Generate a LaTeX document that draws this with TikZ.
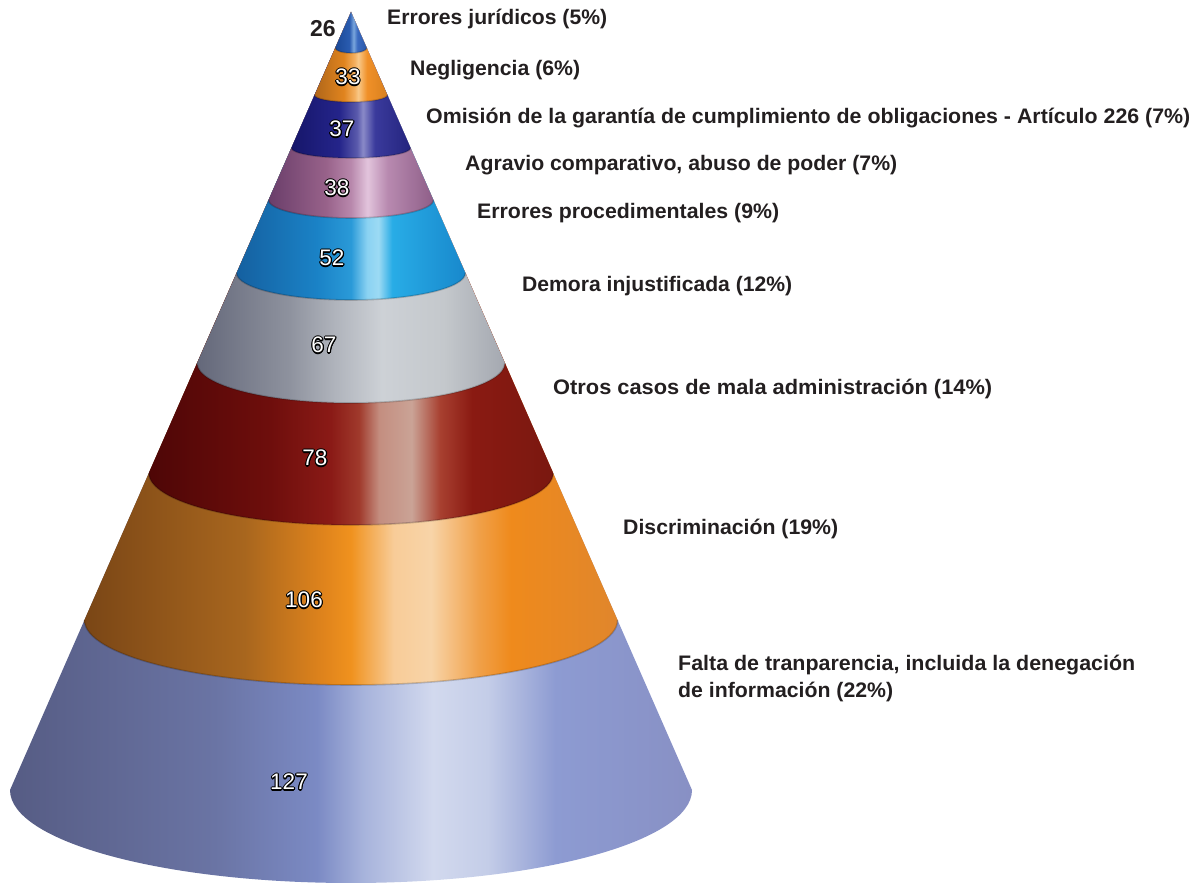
\documentclass[tikz,border=0pt]{standalone}
\usepackage{fontspec}
\setmainfont{Liberation Sans}
\usepackage{graphicx}
\definecolor{txt}{HTML}{231F20}
% shadings (path bounding box maps to 25bp..75bp)
\definecolor{a0}{HTML}{565C84}\definecolor{a1}{HTML}{6A74A4}\definecolor{a2}{HTML}{7B8AC4}\definecolor{a3}{HTML}{A8B4DC}\definecolor{a4}{HTML}{D2D9EE}\definecolor{a5}{HTML}{C4CDE8}\definecolor{a6}{HTML}{8D9BD2}\definecolor{a7}{HTML}{8890C4}
\pgfdeclarehorizontalshading{sh127}{100bp}{color(0bp)=(a0); color(25bp)=(a0); color(40bp)=(a1); color(47.5bp)=(a2); color(51bp)=(a3); color(56bp)=(a4); color(60bp)=(a5); color(65bp)=(a6); color(75bp)=(a7); color(100bp)=(a7)}
\definecolor{b0}{HTML}{7A4616}\definecolor{b1}{HTML}{A8661E}\definecolor{b2}{HTML}{E0841C}\definecolor{b3}{HTML}{F0921E}\definecolor{b4}{HTML}{F8CC98}\definecolor{b5}{HTML}{F8D4A8}\definecolor{b6}{HTML}{F0A048}\definecolor{b7}{HTML}{EF8A1C}\definecolor{b8}{HTML}{E0862C}
\pgfdeclarehorizontalshading{sh106}{100bp}{color(0bp)=(b0); color(25bp)=(b0); color(40bp)=(b1); color(47.5bp)=(b2); color(50bp)=(b3); color(54bp)=(b4); color(57.5bp)=(b5); color(62bp)=(b6); color(65bp)=(b7); color(75bp)=(b8); color(100bp)=(b8)}
\definecolor{c0}{HTML}{4E0606}\definecolor{c1}{HTML}{6E0E0C}\definecolor{c2}{HTML}{8A1A16}\definecolor{c3}{HTML}{A03A2C}\definecolor{c4}{HTML}{C48E80}\definecolor{c5}{HTML}{CAA396}\definecolor{c6}{HTML}{A84030}\definecolor{c7}{HTML}{8A1A12}\definecolor{c8}{HTML}{7A1810}
\pgfdeclarehorizontalshading{sh78}{100bp}{color(0bp)=(c0); color(25bp)=(c0); color(40bp)=(c1); color(47.5bp)=(c2); color(51bp)=(c3); color(53.5bp)=(c4); color(57.5bp)=(c5); color(61bp)=(c6); color(65bp)=(c7); color(75bp)=(c8); color(100bp)=(c8)}
\definecolor{d0}{HTML}{64687A}\definecolor{d1}{HTML}{8E929E}\definecolor{d2}{HTML}{B0B4BC}\definecolor{d3}{HTML}{CDD1D6}\definecolor{d4}{HTML}{C4C8CC}\definecolor{d5}{HTML}{A4A8B0}
\pgfdeclarehorizontalshading{sh67}{100bp}{color(0bp)=(d0); color(25bp)=(d0); color(40bp)=(d1); color(47.5bp)=(d2); color(55bp)=(d3); color(65bp)=(d4); color(75bp)=(d5); color(100bp)=(d5)}
\definecolor{e0}{HTML}{1560A0}\definecolor{e1}{HTML}{1A82C6}\definecolor{e2}{HTML}{2A9AD8}\definecolor{e3}{HTML}{8AD2F2}\definecolor{e4}{HTML}{9CDAF4}\definecolor{e5}{HTML}{28ACE6}\definecolor{e6}{HTML}{1888CC}
\pgfdeclarehorizontalshading{sh52}{100bp}{color(0bp)=(e0); color(25bp)=(e0); color(42.5bp)=(e1); color(50bp)=(e2); color(53.5bp)=(e3); color(56bp)=(e4); color(59bp)=(e5); color(75bp)=(e6); color(100bp)=(e6)}
\definecolor{f0}{HTML}{6A3E6A}\definecolor{f1}{HTML}{98628A}\definecolor{f2}{HTML}{B888AC}\definecolor{f3}{HTML}{E2C4DC}\definecolor{f4}{HTML}{B88AB0}\definecolor{f5}{HTML}{8E5E88}
\pgfdeclarehorizontalshading{sh38}{100bp}{color(0bp)=(f0); color(25bp)=(f0); color(42.5bp)=(f1); color(50bp)=(f2); color(55bp)=(f3); color(61bp)=(f4); color(75bp)=(f5); color(100bp)=(f5)}
\definecolor{g0}{HTML}{16166A}\definecolor{g1}{HTML}{24248A}\definecolor{g2}{HTML}{5A5AAC}\definecolor{g3}{HTML}{8A8AC8}\definecolor{g4}{HTML}{3A3A9C}\definecolor{g5}{HTML}{24247E}
\pgfdeclarehorizontalshading{sh37}{100bp}{color(0bp)=(g0); color(25bp)=(g0); color(45bp)=(g1); color(52.5bp)=(g2); color(55bp)=(g3); color(60bp)=(g4); color(75bp)=(g5); color(100bp)=(g5)}
\definecolor{h0}{HTML}{B0661A}\definecolor{h1}{HTML}{E0841E}\definecolor{h2}{HTML}{F4B060}\definecolor{h3}{HTML}{F8C888}\definecolor{h4}{HTML}{F09028}\definecolor{h5}{HTML}{D8801E}
\pgfdeclarehorizontalshading{sh33}{100bp}{color(0bp)=(h0); color(25bp)=(h0); color(45bp)=(h1); color(52.5bp)=(h2); color(55bp)=(h3); color(61bp)=(h4); color(75bp)=(h5); color(100bp)=(h5)}
\definecolor{i0}{HTML}{1A4896}\definecolor{i1}{HTML}{2A5CB0}\definecolor{i2}{HTML}{7AA6DC}\definecolor{i3}{HTML}{3A6AC0}\definecolor{i4}{HTML}{2A58A8}
\pgfdeclarehorizontalshading{sh26}{100bp}{color(0bp)=(i0); color(25bp)=(i0); color(47.5bp)=(i1); color(54bp)=(i2); color(60bp)=(i3); color(75bp)=(i4); color(100bp)=(i4)}

\newcommand\conepart[4]{%
  \shade[shading=#1] (apex) -- ({351+#3},#2) arc[start angle=0,end angle=-180,x radius=#3,y radius=#4] -- cycle;}
\newcommand\rimline[3]{%
  \draw[black,opacity=0.18,line width=1.6pt] ({351+#2},#1) arc[start angle=0,end angle=-180,x radius=#2,y radius=#3];}
\newcommand\olnum[1]{%
  \setbox0=\hbox{#1}%
  \hbox to \wd0{%
    \foreach \a [evaluate=\a as \dx using {1.1*cos(\a)}, evaluate=\a as \dy using {1.1*sin(\a)}] in {0,30,...,330}{%
      \rlap{\kern\dx pt\raise\dy pt\hbox{\color{black}#1}}}%
    \rlap{\color{white}#1}\hfil}}
\newcommand\fitw[2]{\resizebox{#1pt}{\height}{#2}}

\tikzset{
  lbl/.style={anchor=base west, inner sep=0pt, text=txt, font=\fontsize{21}{27}\selectfont\bfseries},
  numlbl/.style={anchor=base, inner sep=0pt, font=\fontsize{22.5}{27}\selectfont}
}

\begin{document}
\begin{tikzpicture}[x=1pt,y=1pt]
\useasboundingbox (0,0) rectangle (1203,884);
\coordinate (apex) at (351,872);
% cone bands, largest first
\conepart{sh127}{94}{341}{93}
\conepart{sh106}{264}{266.6}{65}
\conepart{sh78}{411}{202.2}{52}
\conepart{sh67}{521}{153.9}{40}
\conepart{sh52}{611}{114.4}{27}
\conepart{sh38}{684}{82.4}{18}
\conepart{sh37}{736}{59.6}{10}
\conepart{sh33}{789}{36.4}{7}
\conepart{sh26}{836}{15.8}{5}
% soft rims at the band boundaries
\rimline{264}{266.6}{65}
\rimline{411}{202.2}{52}
\rimline{521}{153.9}{40}
\rimline{611}{114.4}{27}
\rimline{684}{82.4}{18}
\rimline{736}{59.6}{10}
\rimline{789}{36.4}{7}
\rimline{836}{15.8}{5}

% numbers on the cone
\node[anchor=base, inner sep=0pt, text=txt, font=\fontsize{23}{27}\selectfont\bfseries] (n26) at (323,847) {26};
\node[numlbl] (n33) at (348,799) {\olnum{33}};
\node[numlbl] (n37) at (342,747) {\olnum{37}};
\node[numlbl] (n38) at (337,688) {\olnum{38}};
\node[numlbl] (n52) at (332,618) {\olnum{52}};
\node[numlbl] (n67) at (324,531) {\olnum{67}};
\node[numlbl] (n78) at (315,418) {\olnum{78}};
\node[numlbl] (n106) at (304,276) {\olnum{106}};
\node[numlbl] (n127) at (289,94) {\olnum{127}};

% category labels
\node[lbl] (l1) at (387,859.5) {\fitw{220}{Errores jurídicos (5\%)}};
\node[lbl] (l2) at (410,808.5) {\fitw{170}{Negligencia (6\%)}};
\node[lbl] (l3) at (426,760.5) {\fitw{764}{Omisión de la garantía de cumplimiento de obligaciones - Artículo 226 (7\%)}};
\node[lbl] (l4) at (465,713.5) {\fitw{432}{Agravio comparativo, abuso de poder (7\%)}};
\node[lbl] (l5) at (477,665.5) {\fitw{302}{Errores procedimentales (9\%)}};
\node[lbl] (l6) at (522,592.5) {\fitw{270}{Demora injustificada (12\%)}};
\node[lbl] (l7) at (553,489.5) {\fitw{439}{Otros casos de mala administración (14\%)}};
\node[lbl] (l8) at (623,349.5) {\fitw{215}{Discriminación (19\%)}};
\node[lbl] (l9a) at (678,213.5) {\fitw{457}{Falta de tranparencia, incluida la denegación}};
\node[lbl] (l9b) at (678,186.5) {\fitw{215}{de información (22\%)}};
\end{tikzpicture}
\end{document}
